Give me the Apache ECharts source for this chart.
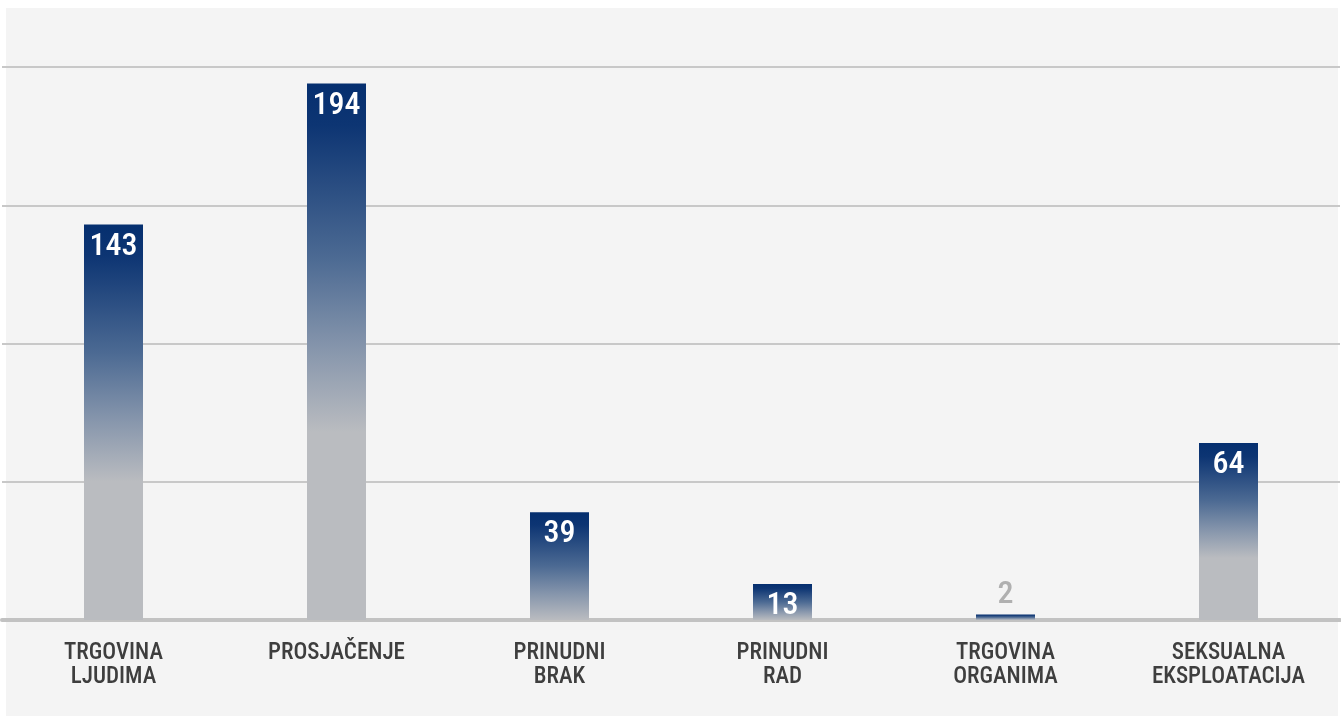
<!DOCTYPE html>
<html><head><meta charset="utf-8">
<script src="https://cdn.jsdelivr.net/npm/echarts@6/dist/echarts.min.js"></script>
<style>html,body{margin:0;padding:0;background:#fff}#c{width:1341px;height:716px}</style>
</head><body><div id="c"></div>
<script>
const categories = ['TRGOVINA\nLJUDIMA', 'PROSJAČENJE', 'PRINUDNI\nBRAK', 'PRINUDNI\nRAD', 'TRGOVINA\nORGANIMA', 'SEKSUALNA\nEKSPLOATACIJA'];
const values = [143, 194, 39, 13, 2, 64];
const FONT = '"Roboto Condensed", "Liberation Sans Narrow", Roboto, sans-serif';
const chart = echarts.init(document.getElementById('c'));
function grad(end) {
  return new echarts.graphic.LinearGradient(0, 0, 0, 1, [
    {offset: 0, color: '#052f6f'},
    {offset: end * 0.12, color: '#0d3573'},
    {offset: end * 0.5, color: '#4c6a93'},
    {offset: end * 0.75, color: '#8494ab'},
    {offset: end, color: '#babcc0'},
    {offset: 1, color: '#babcc0'}
  ]);
}
chart.setOption({
  backgroundColor: '#ffffff',
  animation: false,
  graphic: [{type: 'rect', z: -10, silent: true, shape: {x: 6, y: 8, width: 1332, height: 708}, style: {fill: '#f4f4f4'}}],
  grid: {left: 2, right: 1, top: 67, bottom: 96, containLabel: false},
  xAxis: {
    type: 'category', data: categories,
    axisLine: {show: true, lineStyle: {color: '#c2c2c2', width: 4}},
    axisTick: {show: false},
    axisLabel: {color: '#3e3e3e', fontFamily: FONT, fontSize: 23, fontWeight: 500, lineHeight: 24, margin: 21, interval: 0}
  },
  yAxis: {
    type: 'value', min: 0, max: 200, interval: 50,
    axisLabel: {show: false}, axisLine: {show: false}, axisTick: {show: false},
    splitLine: {lineStyle: {color: '#c8c8c8', width: 2}}
  },
  series: [{
    type: 'bar', barWidth: 59,
    data: values.map(v => ({
      value: v,
      itemStyle: {color: grad(v >= 60 ? 0.65 : 1)},
      label: v < 10 ? {position: 'top', color: '#b0b0b0', distance: 3} : {}
    })),
    label: {show: true, position: 'insideTop', distance: 6, color: '#fff', fontFamily: FONT, fontSize: 32, fontWeight: 500}
  }]
});
</script></body></html>
